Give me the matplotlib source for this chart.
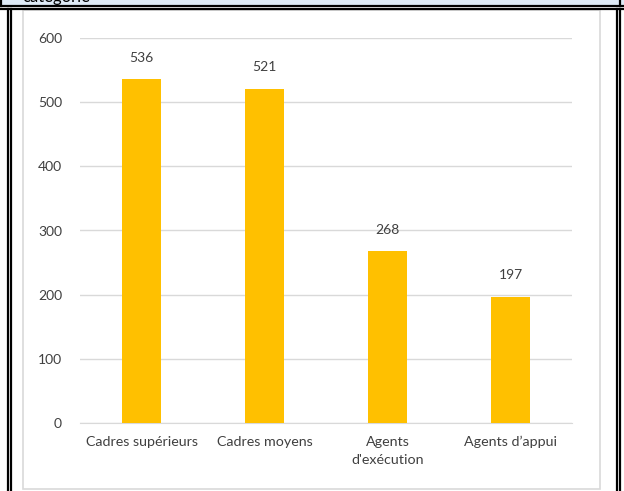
import matplotlib.pyplot as plt
from matplotlib.lines import Line2D
from matplotlib.patches import Rectangle

# données
categories = ["Cadres supérieurs", "Cadres moyens", "Agents\nd'exécution", "Agents d\u2019appui"]
effectifs = [536, 521, 268, 197]
yticks = [0, 100, 200, 300, 400, 500, 600]

W, H = 624, 491
plt.rcParams['font.family'] = ['Lato', 'DejaVu Sans']

fig = plt.figure(figsize=(W / 100, H / 100), dpi=100)


def fx(px):
    return px / W


def fy(py):
    return 1 - py / H


# bandeau bleu du tableau (haut)
fig.add_artist(Rectangle((0, fy(5)), 1, 5 / H, transform=fig.transFigure,
                         facecolor='#DEEAF6', edgecolor='none', zorder=-2))
fig.text(fx(22), fy(2), "catégorie", fontsize=12, color='black', va='baseline')

# bordures du tableau
for y in (5.5, 8.5):
    fig.add_artist(Line2D([0, 1], [fy(y), fy(y)], transform=fig.transFigure,
                          color='black', lw=1.6))
fig.add_artist(Line2D([fx(1), fx(1)], [fy(0), fy(5.5)], transform=fig.transFigure,
                      color='black', lw=1.6))
for x in (8, 11, 616.5, 619.5):
    fig.add_artist(Line2D([fx(x), fx(x)], [fy(8.5), 0], transform=fig.transFigure,
                          color='black', lw=1.6))
fig.add_artist(Line2D([fx(619.5), fx(619.5)], [1, fy(5.5)], transform=fig.transFigure,
                      color='black', lw=1.6))

# cadre du graphique
fig.add_artist(Rectangle((fx(23), fy(489)), (600 - 23) / W, (489 - 10) / H,
                         transform=fig.transFigure, facecolor='white',
                         edgecolor='#D9D9D9', lw=1.2, zorder=-1))

ax = fig.add_axes([fx(80), fy(423), (572 - 80) / W, (423 - 38) / H])
ax.set_zorder(2)
ax.set_facecolor('none')
x = range(len(categories))
bars = ax.bar(x, effectifs, width=0.317, color='#FFC000', zorder=3)
for b, v in zip(bars, effectifs):
    ax.annotate(str(v), (b.get_x() + b.get_width() / 2, v), xytext=(0, 11),
                textcoords='offset points', ha='center', va='bottom',
                fontsize=10, color='#404040')

ax.set_xlim(-0.5, len(categories) - 0.5)
ax.set_ylim(0, 600)
ax.set_yticks(yticks)
ax.set_xticks(list(x))
ax.set_xticklabels(categories, fontsize=10.3, color='#404040', linespacing=1.7)
ax.tick_params(axis='y', length=0, pad=13, labelsize=10, labelcolor='#404040')
ax.tick_params(axis='x', length=0, pad=9)
ax.grid(axis='y', color='#D9D9D9', lw=1, zorder=0)
for s in ('top', 'right', 'left'):
    ax.spines[s].set_visible(False)
ax.spines['bottom'].set_color('#D9D9D9')

fig.savefig('out.png', dpi=100)
